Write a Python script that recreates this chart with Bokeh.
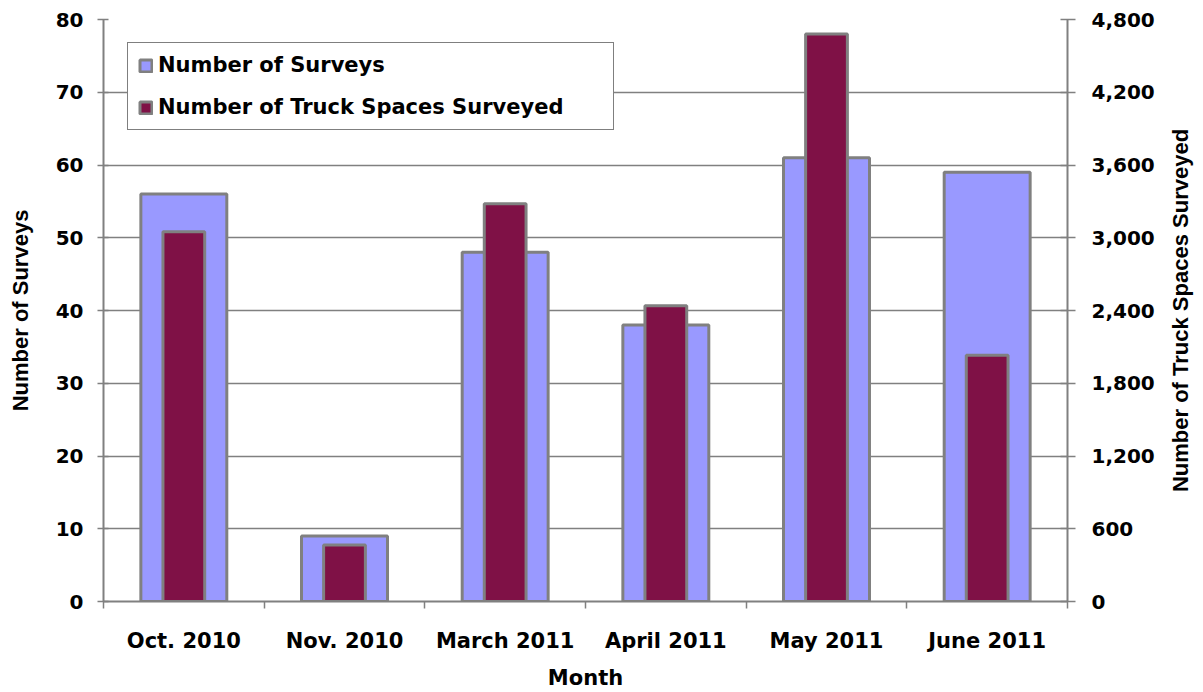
import math
from bokeh.plotting import figure
from bokeh.layouts import row
from bokeh.models import (Range1d, LinearAxis, FixedTicker, SingleIntervalTicker,
                          NumeralTickFormatter, ColumnDataSource, Label)
from bokeh.embed import file_html
from bokeh.resources import INLINE

months = ["Oct. 2010", "Nov. 2010", "March 2011", "April 2011", "May 2011", "June 2011"]
surveys = [56, 9, 48, 38, 61, 59]
truck_spaces = [3050, 465, 3280, 2440, 4680, 2030]
right_title = "Number of Truck Spaces Surveyed"

x_pos = [i + 0.5 for i in range(len(months))]
src = ColumnDataSource(dict(x=x_pos, surveys=surveys, trucks=truck_spaces))

TICK_FONT = "DejaVu Sans"
BLUE = "#9999ff"
MAROON = "#7f1146"
GRAY = "#808080"

p = figure(width=1157, height=692, output_backend="svg", toolbar_location=None,
           x_range=Range1d(0, len(months)), y_range=Range1d(0, 80),
           min_border_left=103, min_border_right=90, min_border_top=19,
           min_border_bottom=87, x_axis_location=None, y_axis_location=None)
p.outline_line_color = None
p.background_fill_color = "white"
p.border_fill_color = "white"
p.extra_y_ranges = {"right": Range1d(0, 4800)}

# axes
xaxis = LinearAxis(ticker=FixedTicker(ticks=x_pos, minor_ticks=list(range(len(months) + 1))),
                   axis_label="Month")
xaxis.major_label_overrides = {x: m for x, m in zip(x_pos, months)}
xaxis.major_tick_in = 0
xaxis.major_tick_out = 0
xaxis.minor_tick_in = 0
xaxis.minor_tick_out = 7
xaxis.minor_tick_line_color = GRAY
xaxis.minor_tick_line_width = 1.5
xaxis.major_label_standoff = 20
xaxis.axis_label_standoff = 10
p.add_layout(xaxis, "below")

yaxis = LinearAxis(ticker=SingleIntervalTicker(interval=10), axis_label="Number of Surveys")
yaxis.major_tick_in = 5
yaxis.major_tick_out = 6
yaxis.major_label_standoff = 14
yaxis.axis_label_standoff = 20
yaxis.minor_tick_line_color = None
p.add_layout(yaxis, "left")

raxis = LinearAxis(y_range_name="right", ticker=SingleIntervalTicker(interval=600),
                   formatter=NumeralTickFormatter(format="0,0"))
raxis.major_tick_in = 7
raxis.major_tick_out = 8
raxis.major_label_standoff = 16
raxis.minor_tick_line_color = None
p.add_layout(raxis, "right")

for ax in (xaxis, yaxis, raxis):
    ax.axis_line_color = GRAY
    ax.axis_line_width = 2
    ax.major_tick_line_color = GRAY
    ax.major_tick_line_width = 1.5
    ax.major_label_text_font = TICK_FONT
    ax.major_label_text_font_style = "bold"
    ax.major_label_text_font_size = "20px"
    ax.major_label_text_color = "black"
    ax.axis_label_text_font_style = "bold"
    ax.axis_label_text_color = "black"

xaxis.major_label_text_font_size = "21px"
xaxis.axis_label_text_font = TICK_FONT
xaxis.axis_label_text_font_size = "21px"
yaxis.axis_label_text_font = "Liberation Sans"
yaxis.axis_label_text_font_size = "22px"

# grid
p.xgrid.grid_line_color = None
p.ygrid.ticker = SingleIntervalTicker(interval=10)
p.ygrid.grid_line_color = GRAY
p.ygrid.grid_line_width = 1.5

# bars
p.vbar(x="x", top="surveys", width=0.535, bottom=0, source=src,
       fill_color=BLUE, line_color=GRAY, line_width=3,
       legend_label="Number of Surveys")
p.vbar(x="x", top="trucks", width=0.26, bottom=0, source=src, y_range_name="right",
       fill_color=MAROON, line_color=GRAY, line_width=3,
       legend_label="Number of Truck Spaces Surveyed")

lg = p.legend[0]
lg.location = (24, 471)
lg.orientation = "vertical"
lg.border_line_color = "black"
lg.border_line_width = 1.5
lg.background_fill_color = "white"
lg.background_fill_alpha = 1
lg.padding = 10
lg.spacing = 18
lg.margin = 0
lg.glyph_width = 15
lg.glyph_height = 15
lg.label_height = 22
lg.label_width = 445
lg.label_standoff = 5
lg.label_text_font = TICK_FONT
lg.label_text_font_style = "bold"
lg.label_text_font_size = "21px"
lg.label_text_color = "black"

# narrow side panel holding the right-hand axis title (reads bottom to top)
p2 = figure(width=46, height=692, output_backend="svg", toolbar_location=None,
            x_range=Range1d(0, 1), y_range=Range1d(0, 1),
            min_border_left=0, min_border_right=0, min_border_top=19,
            min_border_bottom=87, x_axis_location=None, y_axis_location=None)
p2.outline_line_color = None
p2.grid.grid_line_color = None
p2.background_fill_color = "white"
p2.border_fill_color = "white"
p2.add_layout(Label(x=0.5, y=0.5, text=right_title, angle=math.pi / 2,
                    text_align="center", text_baseline="middle",
                    text_font="Liberation Sans", text_font_style="bold",
                    text_font_size="22px", text_color="black"))

layout = row(p, p2, spacing=0)
open("out.html", "w").write(file_html(layout, INLINE))
